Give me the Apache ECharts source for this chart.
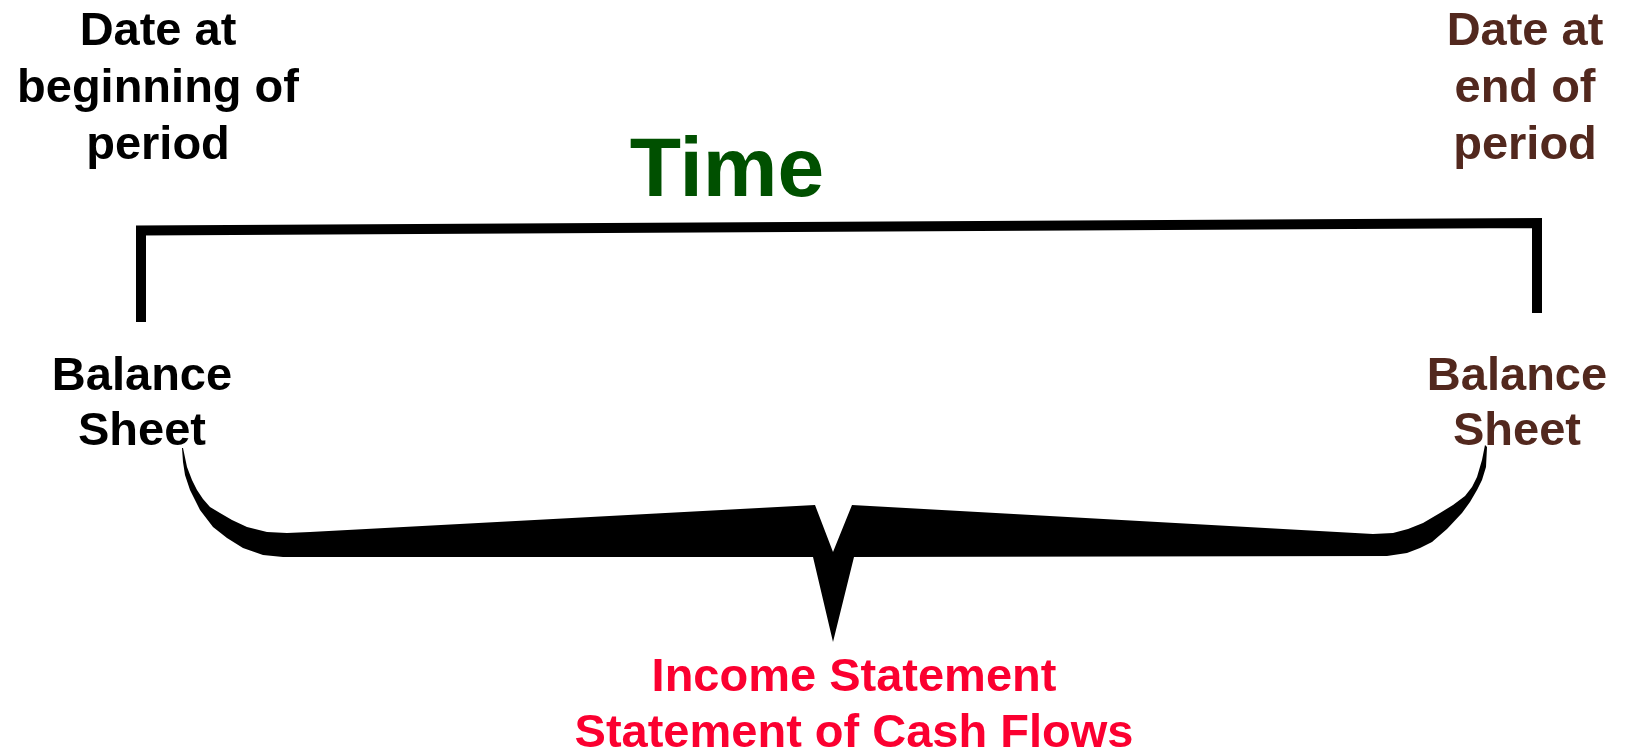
<!DOCTYPE html>
<html>
<head>
<meta charset="utf-8">
<title>Time bracket</title>
<script src="https://cdn.jsdelivr.net/npm/echarts@6/dist/echarts.min.js"></script>
<style>
  html, body { margin: 0; padding: 0; background: #fff; }
  #chartContainer { width: 1628px; height: 751px; }
</style>
</head>
<body>
<div id="chartContainer"></div>
<script>
// --- donnees du schema (coordonnees dans l'espace 1628 x 751) ---
const bracketPts = [[141, 322], [141, 230.5], [1537, 223], [1537, 313]];

// accolade : contour dans le sens horaire depuis la pointe gauche
const braceLeftInner = [[183, 448], [187, 467], [192, 480], [197, 490], [203, 499], [210, 507], [220, 513], [232, 520], [247, 527], [267, 532], [287, 533], [310, 532]];
const braceNotch = [[815, 505], [833, 552], [852, 505]];
const braceRightInner = [[1373, 534], [1393, 533], [1408, 529], [1423, 523], [1440, 513], [1453, 505], [1465, 496], [1472, 487], [1477, 477], [1482, 460], [1485, 445]];
const braceRightOuter = [[1487, 447], [1486, 467], [1482, 480], [1477, 490], [1470, 502], [1462, 513], [1447, 529], [1432, 542], [1420, 548], [1407, 553], [1387, 556]];
const braceStem = [[854, 557], [833, 642], [813, 557]];
const braceLeftOuter = [[283, 557], [263, 555], [243, 548], [227, 538], [213, 527], [200, 510], [190, 490], [185, 475], [183, 462], [182, 448]];

const labelTexts = [
  'Date at\nbeginning of\nperiod',
  'Date at\nend of\nperiod',
  'Time',
  'Balance\nSheet',
  'Balance\nSheet',
  'Income Statement\nStatement of Cash Flows'
];
const labelAnchors = [[158, 89], [1525, 89], [727, 173], [142, 405], [1517, 405], [854, 706]];

// --- rendu ---
let chartDom = document.getElementById('chartContainer');
let myChart = echarts.init(chartDom, null, { renderer: 'canvas' });

const braceOutline = [].concat(braceLeftInner, braceNotch, braceRightInner, braceRightOuter, braceStem, braceLeftOuter);

const FONT = '"Liberation Sans", Arial, Helvetica, sans-serif';
const labelStyles = [
  { color: '#000000', fontSize: 47, lineHeight: 57 },
  { color: '#52281e', fontSize: 47, lineHeight: 57 },
  { color: '#005000', fontSize: 84, lineHeight: 90 },
  { color: '#000000', fontSize: 47, lineHeight: 55 },
  { color: '#52281e', fontSize: 47, lineHeight: 55 },
  { color: '#fb0030', fontSize: 47, lineHeight: 56 }
];

let textData = labelTexts.map((t, i) => ({
  value: labelAnchors[i],
  label: {
    show: true,
    position: 'inside',
    formatter: t,
    align: 'center',
    verticalAlign: 'middle',
    fontFamily: FONT,
    fontWeight: 'bold',
    color: labelStyles[i].color,
    fontSize: labelStyles[i].fontSize,
    lineHeight: labelStyles[i].lineHeight
  }
}));

let option = {
  animation: false,
  backgroundColor: '#ffffff',
  grid: { left: 0, right: 0, top: 0, bottom: 0 },
  xAxis: { type: 'value', min: 0, max: 1628, show: false },
  yAxis: { type: 'value', min: 0, max: 751, inverse: true, show: false },
  series: [
    {
      type: 'line',
      data: bracketPts,
      symbol: 'none',
      silent: true,
      lineStyle: { color: '#000', width: 10, join: 'miter', cap: 'butt', opacity: 1 }
    },
    {
      type: 'custom',
      silent: true,
      data: [braceOutline[0]],
      renderItem: function (params, api) {
        return {
          type: 'polygon',
          shape: { points: braceOutline.map(p => api.coord(p)) },
          style: { fill: '#000' }
        };
      }
    },
    {
      type: 'scatter',
      symbolSize: 0,
      silent: true,
      itemStyle: { opacity: 1 },
      data: textData
    }
  ]
};

myChart.setOption(option);
</script>
</body>
</html>
